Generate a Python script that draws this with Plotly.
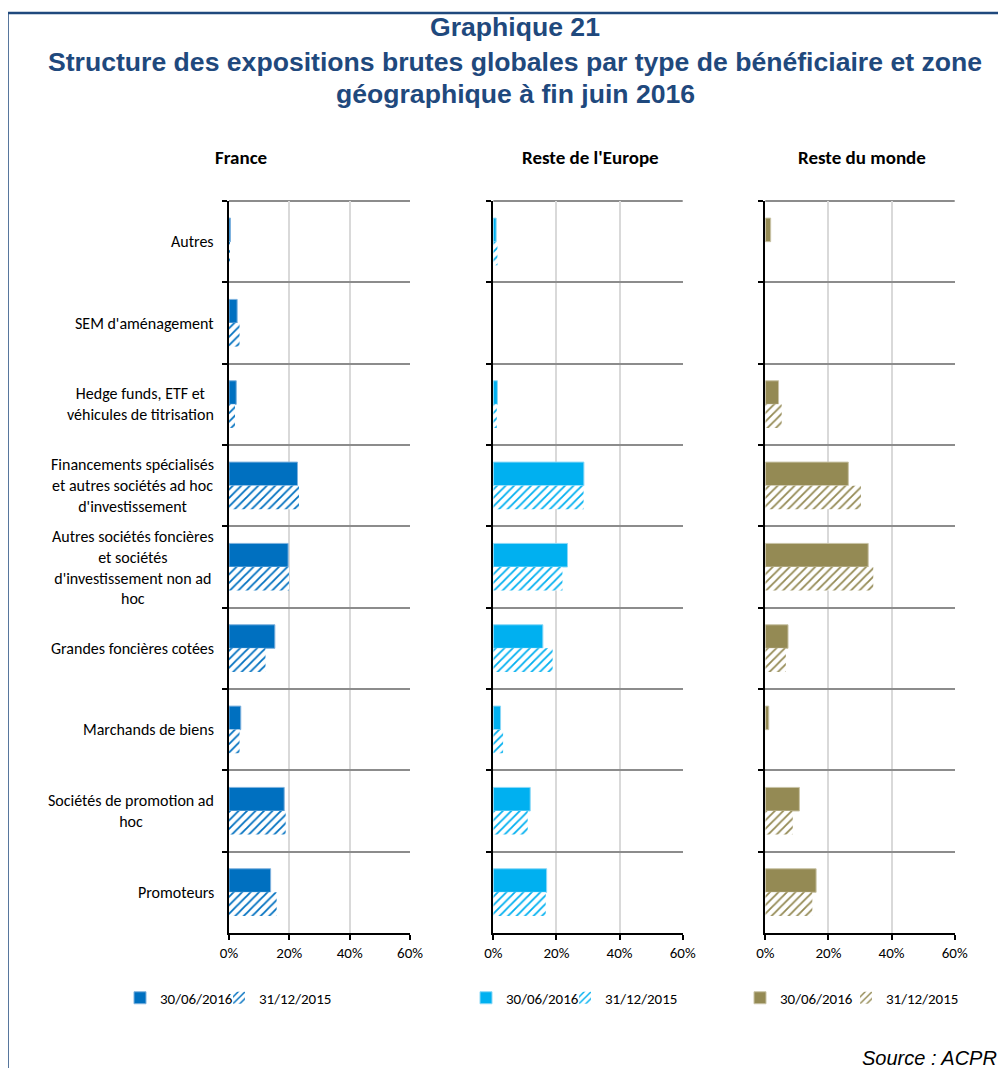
import plotly.graph_objects as go

# ---------------- data ----------------
categories = [
    "Autres",
    "SEM d'aménagement",
    "Hedge funds, ETF et véhicules de titrisation",
    "Financements spécialisés et autres sociétés ad hoc d'investissement",
    "Autres sociétés foncières et sociétés d'investissement non ad hoc",
    "Grandes foncières cotées",
    "Marchands de biens",
    "Sociétés de promotion ad hoc",
    "Promoteurs",
]
category_labels = [
    "Autres",
    "SEM d'aménagement",
    "Hedge funds, ETF et<br>véhicules de titrisation",
    "Financements spécialisés<br>et autres sociétés ad hoc<br>d'investissement",
    "Autres sociétés foncières<br>et sociétés<br>d'investissement non ad<br>hoc",
    "Grandes foncières cotées",
    "Marchands de biens",
    "Sociétés de promotion ad<br>hoc",
    "Promoteurs",
]
series_names = ["30/06/2016", "31/12/2015"]
zones = ["France", "Reste de l'Europe", "Reste du monde"]

# shares in % (None = no bar shown)
france_2016 = [0.5, 2.7, 2.4, 22.7, 19.6, 15.2, 3.9, 18.3, 13.8]
france_2015 = [0.3, 3.5, 2.0, 23.2, 19.9, 12.1, 3.5, 18.8, 15.8]
europe_2016 = [0.9, None, 1.3, 28.7, 23.5, 15.7, 2.3, 11.7, 16.9]
europe_2015 = [1.3, None, 1.1, 28.6, 21.9, 18.8, 3.1, 10.9, 16.6]
monde_2016 = [1.7, None, 4.2, 26.3, 32.6, 7.2, 1.1, 10.8, 16.1]
monde_2015 = [None, None, 5.2, 30.3, 34.2, 6.5, None, 8.7, 14.9]

x_tickvals = [0, 20, 40, 60]
x_ticktext = ["0%", "20%", "40%", "60%"]

# ---------------- styling ----------------
OFF = 8  # page body margin
W, H = 998, 1060
LABEL_FONT = "Carlito, Calibri, Lato, sans-serif"
TITLE_FONT = "Liberation Sans, Arial, sans-serif"
TITLE_COLOR = "#1F497D"

zone_colors = ["#0070C0", "#00B0F0", "#948A54"]
zone_edges = ["#7FB2DE", "#8AD8F7", "#C9C3A6"]
zone_series = [(france_2016, france_2015), (europe_2016, europe_2015), (monde_2016, monde_2015)]

# panel pixel extents (reference page pixels)
panel_x = [(229, 410), (493.3, 682.7), (765.3, 954.7)]
plot_top, plot_bottom = 201, 933
title_x = [241, 590, 862]
# text start of each legend entry (reference page pixels)
legend_text_x = [[160, 259], [506, 605], [780, 886]]


def px(x):
    return (x - OFF) / W


def py(y):
    return 1 - (y - OFF) / H


fig = go.Figure()

for i, (zone, color, edge, (s16, s15)) in enumerate(zip(zones, zone_colors, zone_edges, zone_series)):
    ax = "" if i == 0 else str(i + 1)
    fig.add_trace(go.Bar(
        y=categories, x=s16, orientation="h", name=series_names[0],
        xaxis="x" + ax, yaxis="y" + ax, legend="legend" + ("" if i == 0 else str(2 * i + 1)),
        marker=dict(color=color, line=dict(color=edge, width=1)),
        hoverinfo="x+y",
    ))
    fig.add_trace(go.Bar(
        y=categories, x=s15, orientation="h", name=series_names[1],
        xaxis="x" + ax, yaxis="y" + ax, legend="legend" + str(2 * i + 2),
        marker=dict(color="white", line=dict(width=0),
                    pattern=dict(shape="/", fgcolor=color, bgcolor="white",
                                 size=6, solidity=0.3, fillmode="replace")),
        hoverinfo="x+y",
    ))

layout = dict(
    width=W, height=H,
    margin=dict(l=0, r=0, t=0, b=0),
    paper_bgcolor="white", plot_bgcolor="white",
    barmode="group", bargap=0.42, bargroupgap=0,
    font=dict(family=LABEL_FONT, size=15, color="#000000"),
    showlegend=True,
)

shapes = []
for i in range(3):
    ax = "" if i == 0 else str(i + 1)
    x0, x1 = panel_x[i]
    layout["xaxis" + ax] = dict(
        domain=[px(x0), px(x1)], anchor="y" + ax, range=[0, 60],
        tickvals=x_tickvals, ticktext=x_ticktext,
        showgrid=True, gridcolor="#D9D9D9", gridwidth=2,
        zeroline=False, showline=True, linecolor="#000000", linewidth=2,
        ticks="outside", ticklen=5, tickcolor="#000000", tickwidth=2,
        tickfont=dict(family=LABEL_FONT, size=15, color="#000000"),
        automargin=False, fixedrange=True,
    )
    layout["yaxis" + ax] = dict(
        domain=[py(plot_bottom), py(plot_top)], anchor="x" + ax,
        type="category", categoryorder="array", categoryarray=categories,
        autorange="reversed", tickson="boundaries",
        showgrid=True, gridcolor="#8C8C8C", gridwidth=2,
        showline=True, linecolor="#000000", linewidth=2,
        ticks="outside", ticklen=5, tickcolor="#000000", tickwidth=2,
        showticklabels=False, zeroline=False,
        automargin=False, fixedrange=True,
    )
    # top boundary line of the category grid
    shapes.append(dict(type="line", xref="x" + ax + " domain", yref="y" + ax + " domain",
                       x0=0, x1=1, y0=1, y1=1, line=dict(color="#8C8C8C", width=2),
                       layer="below"))
    for j in range(2):
        k = 2 * i + j + 1
        leg = "legend" if k == 1 else "legend" + str(k)
        layout[leg] = dict(
            orientation="h", x=px(legend_text_x[i][j] - 40), y=py(998),
            xanchor="left", yanchor="middle",
            font=dict(family=LABEL_FONT, size=15, color="#000000"),
            bgcolor="rgba(0,0,0,0)", borderwidth=0,
            itemwidth=30, tracegroupgap=0,
        )

fig.update_layout(**layout)

annotations = []
# main title
title_lines = [
    "Graphique 21",
    "Structure des expositions brutes globales par type de bénéficiaire et zone",
    "géographique à fin juin 2016",
]
title_y = [27, 62, 94]
for t, y in zip(title_lines, title_y):
    annotations.append(dict(
        text="<b>" + t + "</b>", x=px(515), y=py(y), xref="paper", yref="paper",
        xanchor="center", yanchor="middle", showarrow=False,
        font=dict(family=TITLE_FONT, size=26.6, color=TITLE_COLOR),
    ))
# panel titles
for zone, x in zip(zones, title_x):
    annotations.append(dict(
        text="<b>" + zone + "</b>", x=px(x), y=py(157), xref="paper", yref="paper",
        xanchor="center", yanchor="middle", showarrow=False,
        font=dict(family=LABEL_FONT, size=19, color="#000000"),
    ))
# category labels (centered multi-line, right-aligned box)
for cat, lab in zip(categories, category_labels):
    annotations.append(dict(
        text=lab, x=px(216), y=cat, xref="paper", yref="y",
        xanchor="right", yanchor="middle", align="center", showarrow=False,
        font=dict(family=LABEL_FONT, size=16, color="#000000"),
    ))
# source
annotations.append(dict(
    text="<i>Source : ACPR</i>", x=px(860), y=py(1058), xref="paper", yref="paper",
    xanchor="left", yanchor="middle", showarrow=False,
    font=dict(family=TITLE_FONT, size=20, color="#000000"),
))
fig.update_layout(annotations=annotations)

# outer frame (left and top edges)
shapes.append(dict(type="line", xref="paper", yref="paper",
                   x0=px(7.5), x1=px(7.5), y0=-0.05, y1=py(13),
                   line=dict(color=TITLE_COLOR, width=2.5), layer="above"))
shapes.append(dict(type="line", xref="paper", yref="paper",
                   x0=px(7.5), x1=1.05, y0=py(13), y1=py(13),
                   line=dict(color=TITLE_COLOR, width=2.5), layer="above"))
fig.update_layout(shapes=shapes)

fig.write_html("out.html")
